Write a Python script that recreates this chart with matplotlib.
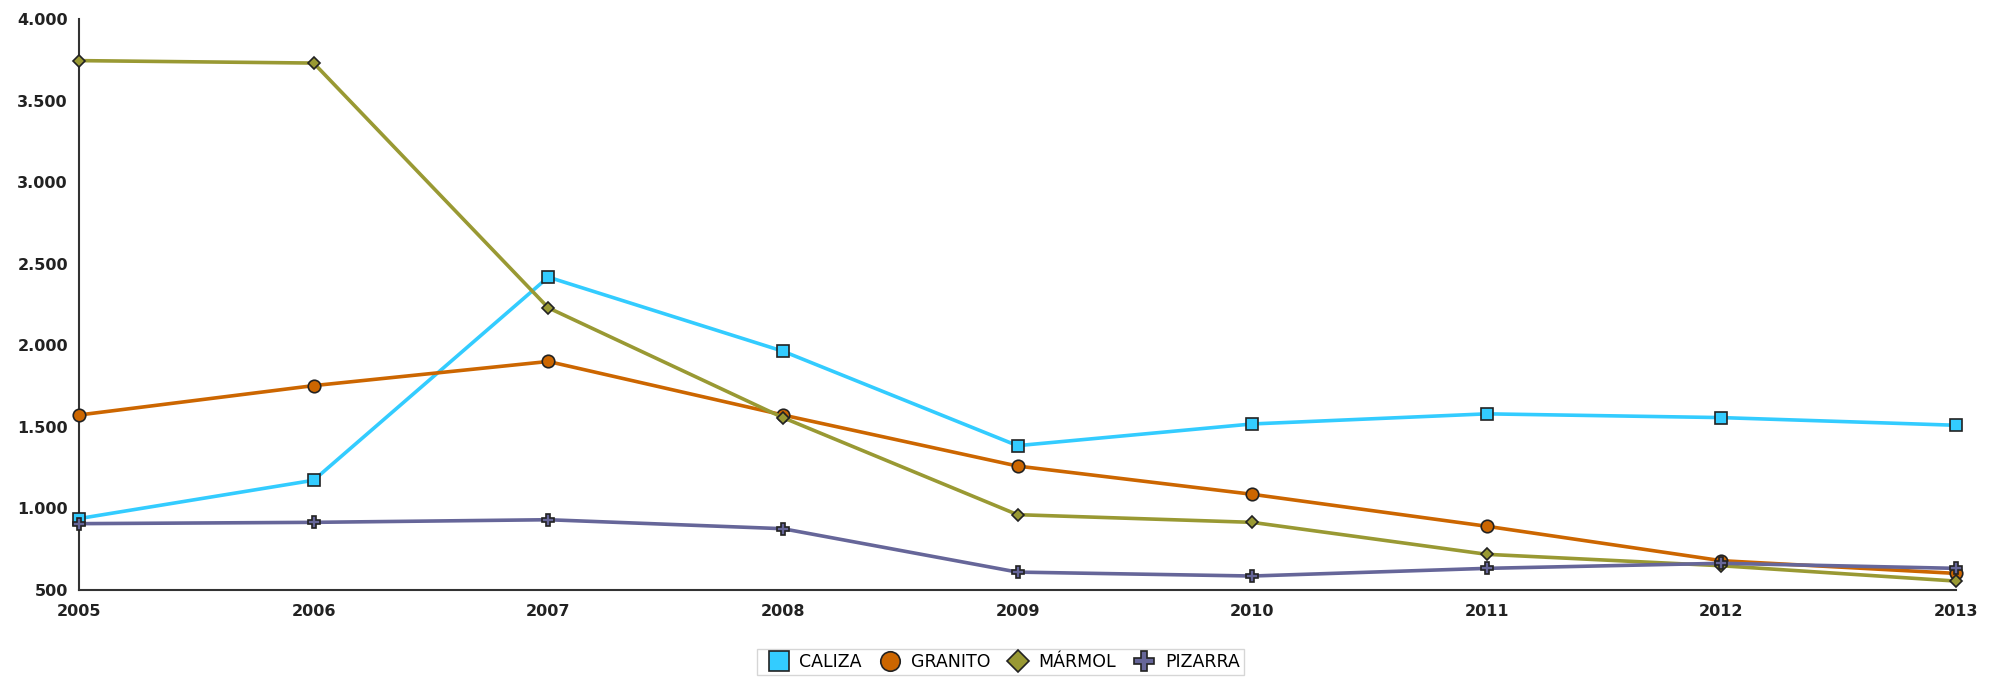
import matplotlib

matplotlib.use("Agg")
import matplotlib.pyplot as plt
from matplotlib.lines import Line2D
from matplotlib.ticker import FuncFormatter

years = [2005, 2006, 2007, 2008, 2009, 2010, 2011, 2012, 2013]
caliza = [938, 1173, 2418, 1964, 1385, 1518, 1580, 1557, 1510]
granito = [1573, 1753, 1901, 1573, 1260, 1087, 891, 680, 602]
marmol = [3745, 3730, 2230, 1557, 962, 915, 719, 649, 555]
pizarra = [907, 915, 931, 876, 610, 586, 633, 664, 633]

series = [
    ("CALIZA", caliza, "#33ccff", "s", 9),
    ("GRANITO", granito, "#cc6600", "o", 9),
    ("MÁRMOL", marmol, "#999933", "D", 6),
    ("PIZARRA", pizarra, "#666699", "P", 9),
]


def thousands(v, _pos):
    return f"{int(v):,}".replace(",", ".")


fig = plt.figure(figsize=(20.01, 6.79), dpi=100)
ax = fig.add_axes([0.0395, 0.131, 0.938, 0.841])

for name, values, color, marker, size in series:
    ax.plot(
        years,
        values,
        color=color,
        linewidth=2.6,
        marker=marker,
        markersize=size,
        markerfacecolor=color,
        markeredgecolor="#222222",
        markeredgewidth=1.2,
        clip_on=False,
        zorder=3,
    )

ax.set_xlim(2005, 2013)
ax.set_ylim(500, 4000)
ax.set_xticks(years)
ax.set_yticks(range(500, 4001, 500))
ax.yaxis.set_major_formatter(FuncFormatter(thousands))
ax.tick_params(length=0, labelsize=11.5, colors="#222222")
ax.tick_params(axis="x", pad=10)
ax.tick_params(axis="y", pad=8)
for lbl in ax.get_xticklabels() + ax.get_yticklabels():
    lbl.set_fontweight("semibold")
for side in ("top", "right"):
    ax.spines[side].set_visible(False)
for side in ("left", "bottom"):
    ax.spines[side].set_color("#333333")
    ax.spines[side].set_linewidth(1.5)

handles = [
    Line2D([], [], linestyle="none", marker=m, markersize=14 if m != "D" else 11,
           markerfacecolor=c, markeredgecolor="#222222", markeredgewidth=1.2)
    for _, _, c, m, s in series
]
leg = fig.legend(
    handles,
    [s[0] for s in series],
    loc="center",
    bbox_to_anchor=(0.5, 0.025),
    ncol=4,
    frameon=True,
    fancybox=False,
    fontsize=12.5,
    handletextpad=0.2,
    columnspacing=0.6,
    borderpad=0.25,
)
leg.get_frame().set_edgecolor("#cccccc")
leg.get_frame().set_linewidth(1.0)

fig.savefig("out.png", dpi=100)
